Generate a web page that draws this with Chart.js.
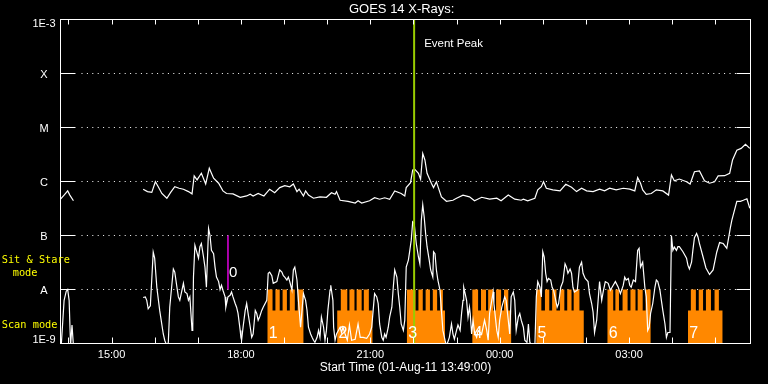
<!DOCTYPE html>
<html>
<head>
<meta charset="utf-8">
<script src="https://cdn.jsdelivr.net/npm/chart.js@4.4.1/dist/chart.umd.min.js"></script>
<style>
html,body{margin:0;padding:0;background:#000;}
canvas{display:block;}
</style>
</head>
<body>
<canvas id="c" width="768" height="384" style="width:768px;height:384px"></canvas>
<script>
// ---------------- DATA ----------------
const titleText = 'GOES 14 X-Rays:';
const startText = 'Start Time (01-Aug-11 13:49:00)';
const startClock = '13:49';
const spanMinutes = 960;                       // plotted span after start
const tickClocks = ['14:00','15:00','16:00','17:00','18:00','19:00','20:00','21:00','22:00','23:00','00:00','01:00','02:00','03:00','04:00','05:00'];
const labeledClocks = ['15:00','18:00','21:00','00:00','03:00'];
const yLevels = [1e-9, 1e-8, 1e-7, 1e-6, 1e-5, 1e-4, 1e-3];
const yLabels = ['1E-9', 'A', 'B', 'C', 'M', 'X', '1E-3'];

// [minutes after start, flux W/m^2]  (null = data gap)
const longChannel = [
 [0,4.7e-7],[5,5.6e-7],[10,6.7e-7],[13,5.6e-7],[18,4.4e-7],[60,null],
 [115,7.2e-7],[121,6.5e-7],[127,6.3e-7],[132,9.9e-7],[136,8.0e-7],[141,6.0e-7],[148,4.9e-7],[153,6.2e-7],
 [159,8.0e-7],[165,7.5e-7],[171,7.2e-7],[178,6.5e-7],[183,5.9e-7],[186,1.27e-6],[190,1.07e-6],[196,1.42e-6],
 [202,9.0e-7],[207,1.76e-6],[213,1.15e-6],[220,9.3e-7],[226,6.7e-7],[231,6.0e-7],[240,5.9e-7],[250,5.1e-7],
 [259,5.4e-7],[264,5.8e-7],[268,5.4e-7],[275,6.0e-7],[283,5.4e-7],[291,7.2e-7],[298,6.2e-7],[305,7.7e-7],
 [312,8.4e-7],[319,8.0e-7],[324,9.0e-7],[329,6.5e-7],[332,7.2e-7],[338,5.4e-7],[341,6.7e-7],[345,5.6e-7],
 [352,4.9e-7],[361,5.2e-7],[370,5.1e-7],[377,6.2e-7],[382,5.8e-7],[384,6.5e-7],[389,4.5e-7],[400,4.3e-7],
 [410,4.0e-7],[414,4.4e-7],[419,4.0e-7],[430,4.4e-7],[437,5.0e-7],[444,4.7e-7],[451,5.0e-7],[458,4.7e-7],
 [465,6.7e-7],[474,6.0e-7],[479,5.4e-7],[481,7.7e-7],[487,9.5e-7],[490,1.64e-6],[493,1.68e-6],[498,1.42e-6],
 [501,1.10e-6],[504,3.3e-6],[507,2.5e-6],[510,1.42e-6],[516,9.3e-7],[519,7.7e-7],[523,9.9e-7],[530,5.2e-7],
 [537,4.3e-7],[546,4.5e-7],[551,4.9e-7],[560,5.6e-7],[569,5.2e-7],[576,4.4e-7],[586,5.1e-7],[597,4.7e-7],
 [607,4.9e-7],[613,4.4e-7],[623,5.6e-7],[632,4.7e-7],[641,4.5e-7],[644,4.7e-7],[650,4.4e-7],[660,4.9e-7],
 [664,7.0e-7],[669,8.0e-7],[672,9.9e-7],[676,7.5e-7],[685,7.0e-7],[695,6.7e-7],[703,8.9e-7],[711,7.8e-7],
 [718,6.5e-7],[725,7.5e-7],[732,6.7e-7],[741,6.5e-7],[750,7.2e-7],[757,6.7e-7],[764,7.5e-7],[773,7.0e-7],
 [783,7.5e-7],[792,7.2e-7],[799,6.7e-7],[803,1.18e-6],[807,9.3e-7],[810,7.0e-7],[815,5.8e-7],[822,6.0e-7],
 [829,7.0e-7],[838,6.7e-7],[846,5.6e-7],[850,1.32e-6],[854,1.03e-6],[861,1.11e-6],[871,9.9e-7],[876,9.0e-7],
 [882,1.52e-6],[889,1.57e-6],[896,1.03e-6],[903,9.3e-7],[910,9.9e-7],[915,1.27e-6],[924,1.28e-6],[931,1.42e-6],
 [935,2.5e-6],[941,3.8e-6],[947,4.1e-6],[953,4.9e-6],[959,4.1e-6]
];

const shortChannel = [
 [1,9e-10],[5,6.3e-9],[8,9.3e-9],[10,1.0e-8],[12,6.3e-9],[14,9e-10],[16,2.2e-9],[18,9e-10],[60,null],
 [115,7.1e-9],[118,7.3e-9],[120,6.3e-9],[122,4.4e-9],[125,5.0e-9],[129,4.9e-8],[131,3.8e-8],[134,1.1e-8],
 [138,4.1e-9],[143,1.5e-9],[145,1.15e-9],[148,9e-10],[150,1.05e-9],[152,4.7e-9],[157,2.4e-8],[159,2.1e-8],
 [162,1.1e-8],[164,7.3e-9],[166,6.3e-9],[169,9.7e-9],[171,1.3e-8],[173,9.0e-9],[176,8.4e-9],[178,6.3e-9],
 [180,7.3e-9],[183,1.75e-9],[184,2.0e-9],[185,1.7e-8],[187,6.6e-8],[189,5.3e-8],[192,3.8e-8],[194,6.2e-8],
 [196,7.1e-8],[199,4.0e-8],[201,2.6e-8],[203,1.1e-8],[206,1.35e-7],[208,1.0e-7],[210,5.3e-8],[213,4.6e-8],
 [215,2.6e-8],[217,1.7e-8],[220,1.4e-8],[222,1.0e-8],[224,1.2e-8],[226,9.7e-9],[229,7.3e-9],[230,4.7e-9],
 [233,7.3e-9],[236,7.8e-9],[238,9.0e-9],[240,7.3e-9],[243,5.5e-9],[245,4.7e-9],[247,3.6e-9],[250,1.75e-9],
 [251,1.3e-9],[252,1.15e-9],[254,2.0e-9],[257,4.1e-9],[259,5.5e-9],[261,3.6e-9],[264,2.0e-9],[266,1.3e-9],
 [268,1.5e-9],[271,4.1e-9],[273,3.6e-9],[275,2.7e-9],[277,3.1e-9],[280,4.1e-9],[282,4.7e-9],[287,6.3e-9],
 [289,2.0e-8],[291,2.1e-8],[294,1.8e-8],[296,1.3e-8],[301,1.4e-8],[303,1.8e-8],[305,2.3e-8],[308,2.1e-8],
 [310,1.8e-8],[312,1.7e-8],[315,1.5e-8],[317,1.7e-8],[319,1.4e-8],[322,9.7e-9],[324,2.3e-8],[326,2.6e-8],
 [329,1.5e-8],[331,6.3e-9],[334,2.0e-9],[336,4.1e-9],[338,8.4e-9],[341,6.3e-9],[343,4.1e-9],[345,2.0e-9],
 [348,1.5e-9],[350,1.3e-9],[352,1.15e-9],[354,1.05e-9],[357,1.3e-9],[359,1.75e-9],[361,1.3e-9],[363,3.1e-9],
 [366,2.0e-9],[368,1.15e-9],[370,1.75e-9],[372,4.1e-9],[375,9.7e-9],[376,1.2e-8],[379,6.3e-9],[380,2.0e-9],
 [382,1.15e-9],[384,1.5e-9],[389,2.0e-9],[391,1.6e-9],[393,2.0e-9],[396,1.5e-9],[399,1.15e-9],[402,2.2e-9],
 [405,1.15e-9],[410,1.2e-9],[414,2.3e-9],[417,1.3e-9],[421,1.3e-9],[426,1.25e-9],[430,1.5e-9],[433,2.0e-9],
 [435,4.1e-9],[437,8.4e-9],[440,7.3e-9],[442,5.5e-9],[444,2.3e-9],[447,1.3e-9],[449,1.15e-9],[451,1.5e-9],
 [453,1.3e-9],[456,2.0e-9],[458,3.1e-9],[461,4.7e-9],[463,1.1e-8],[465,2.3e-8],[468,1.7e-8],[470,8.4e-9],
 [472,4.7e-9],[474,2.3e-9],[477,1.75e-9],[479,2.7e-9],[481,2.6e-8],[484,3.5e-8],[486,5.3e-8],[488,8.2e-8],
 [490,1.8e-7],[492,1.7e-7],[495,7.1e-8],[498,4.0e-8],[500,3.0e-8],[502,1.9e-7],[504,3.7e-7],[506,2.2e-7],
 [508,1.09e-7],[510,6.2e-8],[513,3.5e-8],[515,2.3e-8],[518,1.7e-8],[519,5.0e-8],[521,4.6e-8],[523,2.3e-8],
 [525,1.5e-8],[528,9.7e-9],[530,4.1e-9],[532,1.75e-9],[535,1.15e-9],[537,9e-10],[541,1.3e-9],[544,2.3e-9],
 [546,1.5e-9],[548,1.2e-9],[551,1.75e-9],[553,2.2e-9],[556,1.75e-9],[558,3.6e-9],[560,6.3e-9],[561,1.1e-8],
 [563,8.4e-9],[565,6.3e-9],[567,3.1e-9],[569,4.7e-9],[570,3.6e-9],[572,1.5e-9],[574,2.7e-9],[576,1.6e-9],
 [579,1.3e-9],[581,1.75e-9],[586,1.5e-9],[590,2.7e-9],[593,1.75e-9],[595,1.15e-9],[597,3.6e-9],[600,6.3e-9],
 [602,9.0e-9],[603,5.5e-9],[607,1.75e-9],[609,1.3e-9],[611,2.7e-9],[614,4.7e-9],[616,5.9e-9],[618,7.3e-9],
 [620,6.3e-9],[623,2.7e-9],[625,1.5e-9],[627,7.3e-9],[630,9.0e-9],[632,6.3e-9],[634,1.75e-9],[637,3.1e-9],
 [639,3.6e-9],[641,2.7e-9],[644,2.0e-9],[646,1.15e-9],[649,1.05e-9],[651,2.3e-9],[653,1.05e-9],[657,9e-10],
 [660,9e-10],[662,7.3e-9],[664,1.4e-8],[667,1.1e-8],[669,7.3e-9],[671,5.0e-8],[673,4.0e-8],[675,2.0e-8],
 [677,1.4e-8],[679,1.6e-8],[682,1.5e-8],[684,1.1e-8],[686,9.7e-9],[689,6.3e-9],[691,4.7e-9],[693,5.5e-9],
 [696,1.1e-8],[699,1.4e-8],[702,3.0e-8],[704,2.6e-8],[706,2.0e-8],[709,2.4e-8],[711,2.0e-8],[713,1.1e-8],
 [715,9.0e-9],[719,9.7e-9],[722,2.6e-8],[725,3.2e-8],[727,2.0e-8],[730,1.6e-8],[734,1.4e-8],[736,8.4e-9],
 [739,5.5e-9],[741,3.8e-9],[743,1.6e-9],[746,2.7e-9],[748,6.3e-9],[750,1.4e-8],[753,6.3e-9],[755,9.0e-9],
 [758,1.4e-8],[762,1.3e-8],[765,9.7e-9],[769,1.2e-8],[772,1.4e-8],[776,1.1e-8],[779,8.4e-9],[783,1.2e-8],
 [785,1.7e-8],[787,1.5e-8],[790,1.6e-8],[792,1.2e-8],[794,1.1e-8],[797,1.5e-8],[800,1.4e-8],[803,5.3e-8],
 [805,5.8e-8],[807,2.6e-8],[810,3.2e-8],[813,1.1e-8],[815,7.3e-9],[817,1.75e-9],[819,2.0e-9],[821,3.6e-9],
 [824,5.5e-9],[827,1.1e-8],[829,1.5e-8],[831,1.4e-8],[834,9.7e-9],[836,6.3e-9],[838,4.1e-9],[841,2.3e-9],
 [843,1.3e-9],[845,1.6e-9],[848,1.6e-9],[850,1.0e-7],[852,5.3e-8],[854,6.1e-8],[857,5.3e-8],[859,6.2e-8],
 [861,6.2e-8],[866,5.0e-8],[871,3.8e-8],[873,2.8e-8],[875,2.4e-8],[878,3.2e-8],[880,5.6e-8],[882,9.1e-8],
 [885,1.09e-7],[887,9.3e-8],[889,7.1e-8],[894,4.0e-8],[898,2.5e-8],[903,1.9e-8],[908,2.3e-8],[913,4.9e-8],
 [917,7.4e-8],[922,7.1e-8],[927,5.8e-8],[929,8.2e-8],[932,1.4e-7],[934,1.9e-7],[936,2.4e-7],[941,4.3e-7],
 [946,4.3e-7],[950,4.5e-7],[955,4.8e-7],[959,3.2e-7]
];

// Observing-mode blocks (minutes after start)
const scanLabels = ['1','2','3','4','5','6','7'];
const scanBlocks = [[288,338],[385,434],[482,535],[573,627],[662,728],[761,821],[873,921]];
const scanTeeth = [
 [[288,295],[299,305],[309,315],[319,326],[330,338]],
 [[390,399],[402,409],[412,419],[422,429]],
 [[482,494],[498,504],[508,514],[518,524],[528,532]],
 [[573,581],[585,592],[595,602],[606,613],[617,623]],
 [[662,669],[674,680],[684,690],[695,701],[705,711],[714,722]],
 [[761,769],[772,777],[782,789],[793,800],[803,810],[814,821]],
 [[877,884],[888,894],[898,905],[910,916]]
];
const scanBaseLevel = 4.1e-9;
const scanTopLevel = 1e-8;
const sitStareTime = 233; const sitStareRange = [1e-8, 1e-7]; const sitStareLabel = '0';
const eventPeakTime = 492; const eventPeakLabel = 'Event Peak';
const modeLabels = ['Sit & Stare', 'mode', 'Scan mode'];

// ---------------- BUILD ----------------
function clockToMin(c) {
  const [h, m] = c.split(':').map(Number);
  const [sh, sm] = startClock.split(':').map(Number);
  let d = (h * 60 + m) - (sh * 60 + sm);
  if (d < 0) d += 1440;
  return d;
}
const tickMinutes = tickClocks.map(clockToMin);
const labelMap = {};
tickClocks.forEach((c, i) => { if (labeledClocks.includes(c)) labelMap[tickMinutes[i]] = c; });

const toPts = arr => arr.map(([t, v]) => ({x: t, y: v}));
const yMin = yLevels[0], yMax = yLevels[yLevels.length - 1];

function buildScan() {
  const pts = [{x: 0, y: yMin}];
  scanBlocks.forEach(([s, e], i) => {
    pts.push({x: s, y: yMin}, {x: s, y: scanBaseLevel});
    for (const [a, b] of scanTeeth[i]) {
      pts.push({x: a, y: scanBaseLevel}, {x: a, y: scanTopLevel}, {x: b, y: scanTopLevel}, {x: b, y: scanBaseLevel});
    }
    pts.push({x: e, y: scanBaseLevel}, {x: e, y: yMin});
  });
  pts.push({x: spanMinutes, y: yMin});
  return pts;
}

const FONT = "'Liberation Sans', Arial, sans-serif";

const overlay = {
  id: 'overlay',
  beforeDatasetsDraw(chart) {
    const {ctx, chartArea: a, scales: {y}} = chart;
    ctx.save();
    ctx.strokeStyle = '#fff';
    ctx.lineWidth = 1;
    ctx.setLineDash([1, 4.4]);
    for (const v of yLevels.slice(1, -1)) {
      const py = Math.round(y.getPixelForValue(v) - 0.5) + 0.5;
      ctx.beginPath(); ctx.moveTo(a.left + 21, py); ctx.lineTo(a.right - 14, py); ctx.stroke();
    }
    ctx.restore();
  },
  afterDatasetsDraw(chart) {
    const {ctx, chartArea: a, scales: {x, y}} = chart;
    ctx.save();
    // block numbers
    ctx.fillStyle = '#fff';
    ctx.font = '16px ' + FONT;
    ctx.textAlign = 'left'; ctx.textBaseline = 'alphabetic';
    scanBlocks.forEach(([s], i) => ctx.fillText(scanLabels[i], x.getPixelForValue(s) + 1.2, 338.3));
    // sit & stare marker label
    ctx.font = '15px ' + FONT;
    ctx.fillText(sitStareLabel, x.getPixelForValue(sitStareTime) + 1, 277.3);
    // event peak label
    ctx.font = '11.5px ' + FONT;
    ctx.fillText(eventPeakLabel, x.getPixelForValue(eventPeakTime) + 10, 46.7);
    // frame
    ctx.strokeStyle = '#fff'; ctx.lineWidth = 1; ctx.setLineDash([]);
    ctx.strokeRect(a.left, a.top, a.right - a.left, a.bottom - a.top);
    // y ticks (solid, inward both sides)
    for (const v of yLevels.slice(1, -1)) {
      const py = Math.round(y.getPixelForValue(v) - 0.5) + 0.5;
      ctx.beginPath();
      ctx.moveTo(a.left, py); ctx.lineTo(a.left + 15, py);
      ctx.moveTo(a.right - 14, py); ctx.lineTo(a.right, py);
      ctx.stroke();
    }
    // x ticks (inward, top and bottom)
    for (const t of tickMinutes) {
      const px = Math.round(x.getPixelForValue(t)) + 0.5;
      ctx.beginPath();
      ctx.moveTo(px, a.bottom); ctx.lineTo(px, a.bottom - 6);
      ctx.moveTo(px, a.top); ctx.lineTo(px, a.top + 5);
      ctx.stroke();
    }
    // y labels
    ctx.font = '11px ' + FONT;
    ctx.textAlign = 'center';
    yLevels.forEach((v, i) => {
      const py = y.getPixelForValue(v);
      let base = py + 4.5;
      if (i === 0) base = py - 0.2;
      if (i === yLevels.length - 1) base = py + 7.2;
      ctx.fillText(yLabels[i], 44, base);
    });
    // mode labels
    ctx.fillStyle = '#ffff00';
    ctx.textAlign = 'left';
    ctx.font = "10.3px 'DejaVu Sans Mono', monospace";
    ctx.fillText(modeLabels[0], 1.7, 263.3);
    ctx.fillText(modeLabels[1], 12.7, 275.5);
    ctx.fillText(modeLabels[2], 1.7, 328.3);
    ctx.restore();
  }
};

new Chart(document.getElementById('c'), {
  type: 'line',
  data: {
    datasets: [
      { label: 'peak', data: [{x: eventPeakTime, y: yMin}, {x: eventPeakTime, y: yMax}],
        borderColor: '#99cc00', borderWidth: 2, pointRadius: 0, order: 0 },
      { label: 'sitstare', data: [{x: sitStareTime, y: sitStareRange[0]}, {x: sitStareTime, y: sitStareRange[1]}],
        borderColor: '#e000e0', borderWidth: 1.5, pointRadius: 0, order: 0 },
      { label: '1-8 A', data: toPts(longChannel), borderColor: '#ffffff', borderWidth: 1.2,
        pointRadius: 0, spanGaps: false, tension: 0, order: 1 },
      { label: '0.5-4 A', data: toPts(shortChannel), borderColor: '#ffffff', borderWidth: 1.2,
        pointRadius: 0, spanGaps: false, tension: 0, order: 1 },
      { label: 'scan', data: buildScan(), borderColor: 'rgba(0,0,0,0)', borderWidth: 0,
        backgroundColor: '#ff8800', fill: 'start', pointRadius: 0, tension: 0, order: 3 }
    ]
  },
  options: {
    responsive: false,
    animation: false,
    devicePixelRatio: 1,
    events: [],
    layout: { padding: { left: 52.9, right: 17.5, top: 0, bottom: 0 } },
    plugins: {
      legend: { display: false },
      tooltip: { enabled: false },
      title: { display: true, text: titleText, color: '#ffffff',
        font: { family: FONT, size: 13, weight: 'normal' }, padding: { top: 2, bottom: 1.9 } }
    },
    scales: {
      x: {
        type: 'linear', min: 0, max: spanMinutes,
        grid: { display: false, drawTicks: false },
        border: { display: false },
        afterBuildTicks: s => { s.ticks = tickMinutes.map(v => ({ value: v })); },
        afterFit: s => { s.height = 40.5; },
        ticks: {
          autoSkip: false, maxRotation: 0, minRotation: 0, padding: 4.9, color: '#ffffff',
          font: { family: FONT, size: 11 },
          callback: v => labelMap[v] || ''
        },
        title: { display: true, text: startText, color: '#ffffff',
          font: { family: FONT, size: 12 }, padding: { top: 0, bottom: 8.8 } }
      },
      y: {
        type: 'logarithmic', min: yMin, max: yMax,
        grid: { display: false, drawTicks: false },
        border: { display: false },
        ticks: { display: false },
        afterFit: s => { s.width = 7.6; }
      }
    }
  },
  plugins: [overlay]
});
</script>
</body>
</html>
